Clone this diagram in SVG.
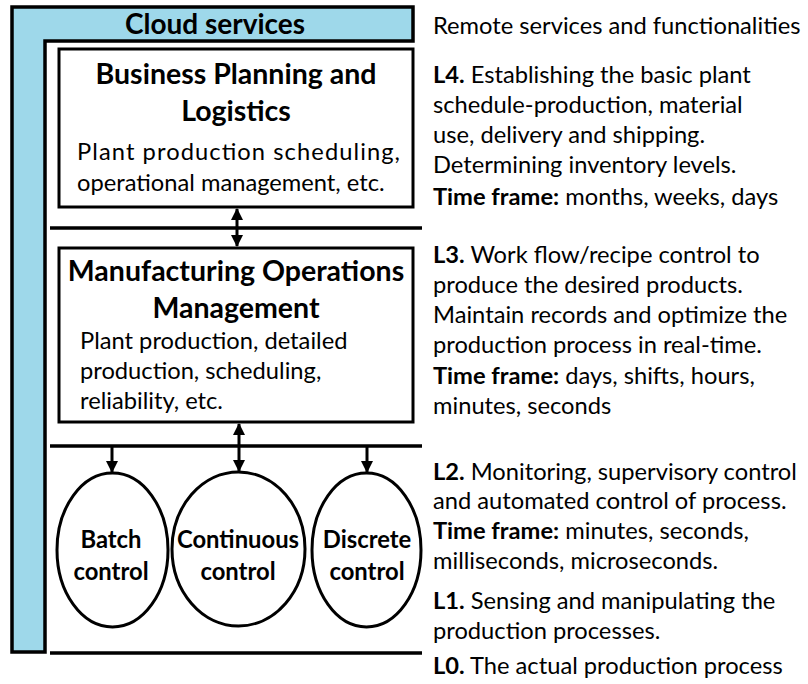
<svg xmlns="http://www.w3.org/2000/svg" width="808" height="684" viewBox="0 0 808 684">
<style>
text{font-family:Lato,"Liberation Sans",sans-serif;fill:#000}
.t{font-weight:bold;font-size:28.5px;text-anchor:middle}
.c{font-weight:bold;font-size:28px;text-anchor:middle}
.b{font-size:23.7px}
.e{font-weight:bold;font-size:23.8px;text-anchor:middle}
.bx{fill:#fff;stroke:#000;stroke-width:3}
.ln{stroke:#000;stroke-width:3.5;fill:none}
.ar{stroke:#000;stroke-width:3;fill:none}
.k{font-weight:bold}
</style>
<defs>
<marker id="ah" markerUnits="userSpaceOnUse" markerWidth="12" markerHeight="12" viewBox="0 0 12 12" refX="11" refY="6" orient="auto-start-reverse">
<path d="M0,0 L12,6 L0,12 Z" fill="#000"/>
</marker>
</defs>
<rect width="808" height="684" fill="#fff"/>
<g id="cloud">
<path d="M12,7 H413 V41 H45 V652 H12 Z" fill="#9ED8EA" stroke="#000" stroke-width="3.5"/>
<text class="c" x="215" y="34">Cloud services</text>
</g>
<g id="levels">
<line class="ln" x1="50" y1="228" x2="422" y2="228"/>
<line class="ln" x1="50" y1="446" x2="422" y2="446"/>
<line class="ln" x1="50" y1="653" x2="422" y2="653"/>
</g>
<g id="business">
<rect class="bx" x="59" y="49" width="354" height="158"/>
<text class="t" x="236" y="84">Business Planning and</text>
<text class="t" x="236" y="121">Logistics</text>
<text class="b" x="77" y="160" textLength="323" lengthAdjust="spacing">Plant production scheduling,</text>
<text class="b" x="77" y="191">operational management, etc.</text>
</g>
<g id="mom">
<rect class="bx" x="59" y="248" width="354" height="174"/>
<text class="t" x="236" y="281">Manufacturing Operations</text>
<text class="t" x="236" y="318">Management</text>
<text class="b" x="80" y="349">Plant production, detailed</text>
<text class="b" x="80" y="379">production, scheduling,</text>
<text class="b" x="80" y="409">reliability, etc.</text>
</g>
<g id="batch">
<ellipse class="bx" cx="112.5" cy="550" rx="55.5" ry="77"/>
<text class="e" x="111" y="548">Batch</text>
<text class="e" x="111" y="580">control</text>
</g>
<g id="continuous">
<ellipse class="bx" cx="238.5" cy="549" rx="66.5" ry="77"/>
<text class="e" x="238" y="548">Continuous</text>
<text class="e" x="238" y="580">control</text>
</g>
<g id="discrete">
<ellipse class="bx" cx="366.5" cy="550" rx="54.5" ry="77"/>
<text class="e" x="367" y="548">Discrete</text>
<text class="e" x="367" y="580">control</text>
</g>
<g id="connectors">
<line class="ar" x1="237" y1="209" x2="237" y2="246" marker-start="url(#ah)" marker-end="url(#ah)"/>
<line class="ar" x1="239" y1="424" x2="239" y2="471" marker-start="url(#ah)" marker-end="url(#ah)"/>
<line class="ar" x1="112" y1="447" x2="112" y2="472" marker-end="url(#ah)"/>
<line class="ar" x1="367" y1="447" x2="367" y2="472" marker-end="url(#ah)"/>
</g>
<g id="descriptions">
<text class="b" x="433" y="34">Remote services and functionalities</text>
<text class="b" x="433" y="83"><tspan class="k">L4.</tspan> Establishing the basic plant</text>
<text class="b" x="433" y="113">schedule-production, material</text>
<text class="b" x="433" y="143">use, delivery and shipping.</text>
<text class="b" x="433" y="173">Determining inventory levels.</text>
<text class="b" x="433" y="205"><tspan class="k">Time frame:</tspan> months, weeks, days</text>
<text class="b" x="433" y="263"><tspan class="k">L3.</tspan> Work flow/recipe control to</text>
<text class="b" x="433" y="293">produce the desired products.</text>
<text class="b" x="433" y="323">Maintain records and optimize the</text>
<text class="b" x="433" y="353">production process in real-time.</text>
<text class="b" x="433" y="384"><tspan class="k">Time frame:</tspan> days, shifts, hours,</text>
<text class="b" x="433" y="414">minutes, seconds</text>
<text class="b" x="433" y="480"><tspan class="k">L2.</tspan> Monitoring, supervisory control</text>
<text class="b" x="433" y="509">and automated control of process.</text>
<text class="b" x="433" y="539"><tspan class="k">Time frame:</tspan> minutes, seconds,</text>
<text class="b" x="433" y="569">milliseconds, microseconds.</text>
<text class="b" x="433" y="609"><tspan class="k">L1.</tspan> Sensing and manipulating the</text>
<text class="b" x="433" y="639">production processes.</text>
<text class="b" x="433" y="674"><tspan class="k">L0.</tspan> The actual production process</text>
</g>
</svg>
